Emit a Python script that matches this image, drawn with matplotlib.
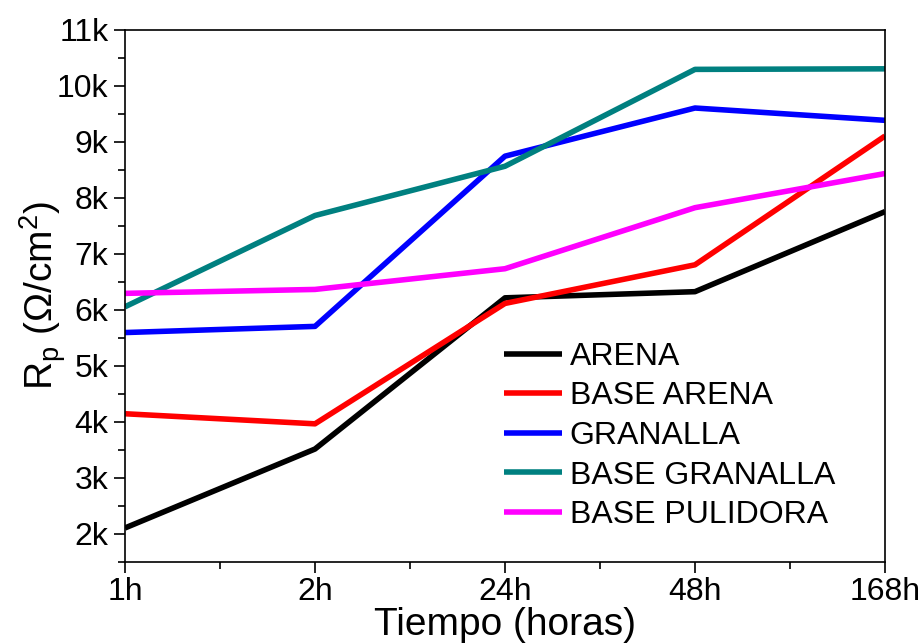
import matplotlib
matplotlib.use("Agg")
import matplotlib.pyplot as plt
from matplotlib.ticker import MultipleLocator, FuncFormatter, FixedLocator

plt.rcParams['font.family'] = ['Liberation Sans', 'DejaVu Sans']
plt.rcParams['mathtext.fontset'] = 'custom'
plt.rcParams['mathtext.rm'] = 'Liberation Sans'

# data
tiempos = ['1h', '2h', '24h', '48h', '168h']
arena = [2100, 3510, 6210, 6320, 7750]
base_arena = [4140, 3960, 6110, 6800, 9100]
granalla = [5590, 5700, 8740, 9600, 9380]
base_granalla = [6050, 7680, 8560, 10290, 10300]
base_pulidora = [6290, 6360, 6730, 7820, 8430]

series = [
    ('ARENA', arena, '#000000'),
    ('BASE ARENA', base_arena, '#ff0000'),
    ('GRANALLA', granalla, '#0000ff'),
    ('BASE GRANALLA', base_granalla, '#008080'),
    ('BASE PULIDORA', base_pulidora, '#ff00ff'),
]

fig = plt.figure(figsize=(9.19, 6.44), dpi=100)
ax = fig.add_axes([0.136, 0.128, 0.827, 0.826])

x = list(range(len(tiempos)))
for name, vals, col in series:
    ax.plot(x, vals, color=col, lw=4.0, label=name, solid_capstyle='butt')

ax.set_xlim(0, len(tiempos) - 1)
ax.set_ylim(1500, 11000)
ax.set_xticks(x)
ax.set_xticklabels(tiempos)
ax.xaxis.set_minor_locator(FixedLocator([i + 0.5 for i in x[:-1]]))
ax.yaxis.set_major_locator(MultipleLocator(1000))
ax.yaxis.set_minor_locator(MultipleLocator(500))
ax.yaxis.set_major_formatter(FuncFormatter(lambda v, p: '%dk' % round(v / 1000)))

ax.tick_params(which='major', direction='out', length=8, width=1.2, labelsize=23)
ax.tick_params(which='minor', direction='out', length=5, width=1.2)
ax.tick_params(axis='x', pad=3)
ax.tick_params(axis='y', pad=4)
for s in ax.spines.values():
    s.set_linewidth(1.2)

ax.set_xlabel('Tiempo (horas)', fontsize=28, labelpad=0)
ax.set_ylabel(r'R$_\mathregular{p}$ ($\Omega$/cm$^\mathregular{2}$)', fontsize=28, labelpad=-8)

ax.legend(loc='lower left', bbox_to_anchor=(0.482, 0.035), frameon=False,
          fontsize=23, handlelength=1.8, labelspacing=0.3, handletextpad=0.25,
          borderaxespad=0)

fig.savefig('out.png', dpi=100)
